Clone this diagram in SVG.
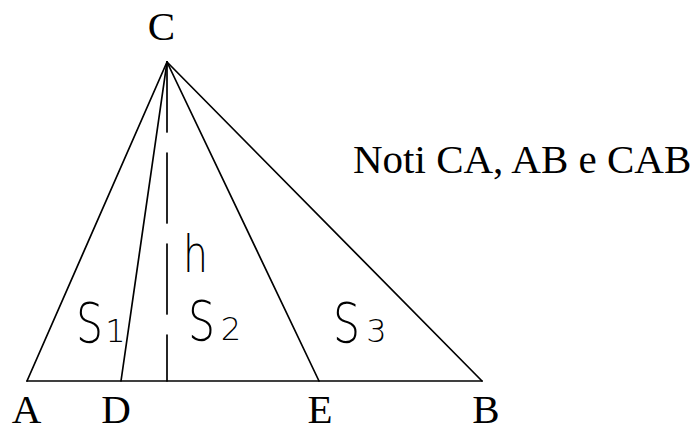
<svg xmlns="http://www.w3.org/2000/svg" width="696" height="426" viewBox="0 0 696 426">
<style>
.ln{stroke:#000;stroke-width:1.7;fill:none;stroke-linecap:round}
.serif{font-family:"Liberation Serif","Times New Roman",serif;font-size:41px;fill:#000}
.sk{font-family:"DejaVu Sans","Liberation Sans",sans-serif;font-weight:200;fill:#000}
.big{font-size:55px}
.dig{font-size:32px}
</style>
<rect width="696" height="426" fill="#fff"/>
<g id="connectors">
<line class="ln" x1="27" y1="381" x2="482" y2="381" stroke-width="2"/>
<line class="ln" x1="167" y1="62" x2="27" y2="381"/>
<line class="ln" x1="167" y1="62" x2="121" y2="381"/>
<line class="ln" x1="167" y1="62" x2="319" y2="381"/>
<line class="ln" x1="167" y1="62" x2="482" y2="381"/>
<line class="ln" x1="167" y1="62" x2="167" y2="381" stroke-dasharray="70 21" stroke-width="2" stroke-linecap="butt"/>
</g>
<g id="C"><text class="serif" x="161.5" y="40" text-anchor="middle">C</text></g>
<g id="A"><text class="serif" x="26.5" y="422.5" text-anchor="middle">A</text></g>
<g id="D"><text class="serif" x="116" y="422.5" text-anchor="middle">D</text></g>
<g id="E"><text class="serif" x="320" y="422.5" text-anchor="middle">E</text></g>
<g id="B"><text class="serif" x="486" y="422.5" text-anchor="middle">B</text></g>
<g id="note"><text class="serif" x="353" y="172.5">Noti CA, AB e CAB</text></g>
<g id="h"><text class="sk" x="195.5" y="272" text-anchor="middle" font-size="52" textLength="25" lengthAdjust="spacingAndGlyphs">h</text></g>
<g id="S1"><text class="sk big" x="89.5" y="342" text-anchor="middle" textLength="27" lengthAdjust="spacingAndGlyphs">S</text><text class="sk dig" x="115.5" y="342" text-anchor="middle">1</text></g>
<g id="S2"><text class="sk big" x="201.5" y="340" text-anchor="middle" textLength="27" lengthAdjust="spacingAndGlyphs">S</text><text class="sk dig" x="231" y="340" text-anchor="middle">2</text></g>
<g id="S3"><text class="sk big" x="346.5" y="342" text-anchor="middle" textLength="27" lengthAdjust="spacingAndGlyphs">S</text><text class="sk dig" x="376.5" y="342" text-anchor="middle">3</text></g>
</svg>
